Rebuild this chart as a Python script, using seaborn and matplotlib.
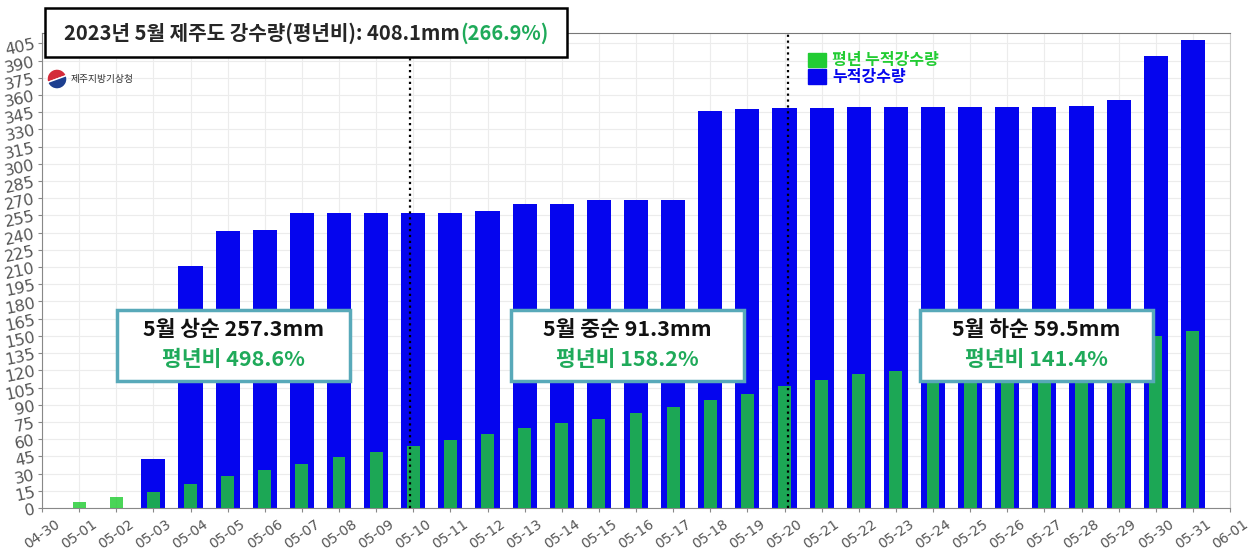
import matplotlib
matplotlib.use('Agg')
import matplotlib.pyplot as plt
import seaborn as sns
import pandas as pd
from matplotlib.patches import Rectangle, Patch, Wedge

# %%
dates = ['05-%02d' % d for d in range(1, 32)]
axis_order = ['04-30'] + dates + ['06-01']

cum_rain = [0, 0, 43.0, 211.3, 241.7, 242.0, 257.3, 257.3, 257.3, 257.3,
            257.3, 258.5, 265.2, 265.2, 268.4, 268.4, 268.4, 345.6, 348.0, 348.6,
            348.8, 349.1, 349.1, 349.1, 349.1, 349.1, 349.1, 350.6, 355.2, 393.6,
            408.1]
normal_cum = [4.9, 9.6, 13.9, 21.2, 27.5, 32.8, 38.3, 44.1, 48.5, 53.7,
              58.9, 64.5, 69.4, 73.7, 77.8, 83.1, 88.0, 93.8, 99.6, 106.0,
              111.8, 116.4, 119.7, 123.0, 126.0, 129.0, 133.0, 137.0, 141.0, 149.5,
              154.2]

title_main = '2023년 5월 제주도 강수량(평년비): 408.1mm'
title_ratio = '(266.9%)'
period_names = ['5월 상순 257.3mm', '5월 중순 91.3mm', '5월 하순 59.5mm']
period_ratios = ['평년비 498.6%', '평년비 158.2%', '평년비 141.4%']
split_days = [9.9, 20.1]

blue = '#0505ee'
green = '#22cc33'
text_green = '#1faa5a'

df = pd.DataFrame({'date': dates, 'cum': cum_rain, 'normal': normal_cum})

# %%
sns.set_style('white')
plt.rcParams['font.family'] = ['Noto Sans CJK KR', 'DejaVu Sans']

W, H = 1253, 553
fig = plt.figure(figsize=(W / 100, H / 100), dpi=100)
ax = fig.add_axes([42 / W, 1 - 508 / H, (1230 - 42) / W, (508 - 33) / H])

sns.barplot(data=df, x='date', y='cum', order=axis_order, color=blue,
            saturation=1, width=0.65, errorbar=None, ax=ax, zorder=2,
            linewidth=0, edgecolor='none')
sns.barplot(data=df, x='date', y='normal', order=axis_order, color=green,
            saturation=1, width=0.35, errorbar=None, ax=ax, alpha=0.82, zorder=3,
            linewidth=0, edgecolor='none')

ax.set_xlim(0, len(axis_order) - 1)
ax.set_ylim(0, 414)
ax.set_yticks(range(0, 406, 15))
ax.set_xlabel('')
ax.set_ylabel('')
ax.grid(True, color='#ececec', lw=0.8)
ax.set_axisbelow(True)
ax.tick_params(axis='x', labelsize=10, labelcolor='#555555', rotation=35,
               length=3, color='#888888', direction='out', bottom=True)
ax.tick_params(axis='y', labelsize=11.5, labelcolor='#555555', length=3,
               color='#888888', direction='out', left=True, pad=1)
for lab in ax.get_yticklabels():
    lab.set_rotation(12)
    lab.set_family('DejaVu Sans')
for lab in ax.get_xticklabels():
    lab.set_ha('center')
    lab.set_family('DejaVu Sans')
for side in ['left', 'bottom']:
    ax.spines[side].set_color('#888888')
ax.spines['top'].set_color('#777777')
ax.spines['right'].set_color('#cccccc')

for xd in split_days:
    ax.plot([xd, xd], [0, 414], color='black', ls=':', lw=1.6, zorder=4)

handles = [Patch(color=green), Patch(color=blue)]
leg = ax.legend(handles, ['평년 누적강수량', '누적강수량'], loc='upper left',
                bbox_to_anchor=(0.633, 0.99), frameon=False,
                handlelength=1.1, handleheight=1.0, handletextpad=0.4,
                labelspacing=0.05, prop={'size': 11.5, 'weight': 'bold'},
                labelcolor=[green, blue])

# title box
fig.add_artist(Rectangle((45 / W, 1 - 57 / H), (567 - 45) / W, 49 / H,
                         transform=fig.transFigure, fc='white', ec='black',
                         lw=1.8, zorder=5))
t1 = fig.text(64 / W, 1 - 33 / H, title_main, fontsize=14.5, weight='bold',
              va='center', ha='left', zorder=6)
fig.canvas.draw()
bb = t1.get_window_extent()
fig.text(bb.x1 / W, 1 - 33 / H, title_ratio, fontsize=14.5, weight='bold',
         color=text_green, va='center', ha='left', zorder=6)

# logo
fig.add_artist(Wedge((57, H - 79), 10, 20, 200, transform=None, fc='#d42b3a', zorder=5))
fig.add_artist(Wedge((57, H - 79), 10, 200, 380, transform=None, fc='#1d3f8f', zorder=5))
fig.text(71 / W, 1 - 79 / H, '제주지방기상청', fontsize=7, color='#333333',
         va='center', ha='left', zorder=6)

# period boxes
box_left = [117, 511, 920]
for x0, name, ratio in zip(box_left, period_names, period_ratios):
    fig.add_artist(Rectangle((x0 / W, 1 - 381 / H), 233 / W, 71 / H,
                             transform=fig.transFigure, fc='white', ec='#58a9b9',
                             lw=2.5, zorder=5))
    cx = (x0 + 116.5) / W
    fig.text(cx, 1 - 330 / H, name, fontsize=15.5, weight='bold', ha='center',
             va='center', color='#111111', zorder=6)
    fig.text(cx, 1 - 359 / H, ratio, fontsize=15.5, weight='bold', ha='center',
             va='center', color=text_green, zorder=6)

fig.savefig('out.png', dpi=100)
